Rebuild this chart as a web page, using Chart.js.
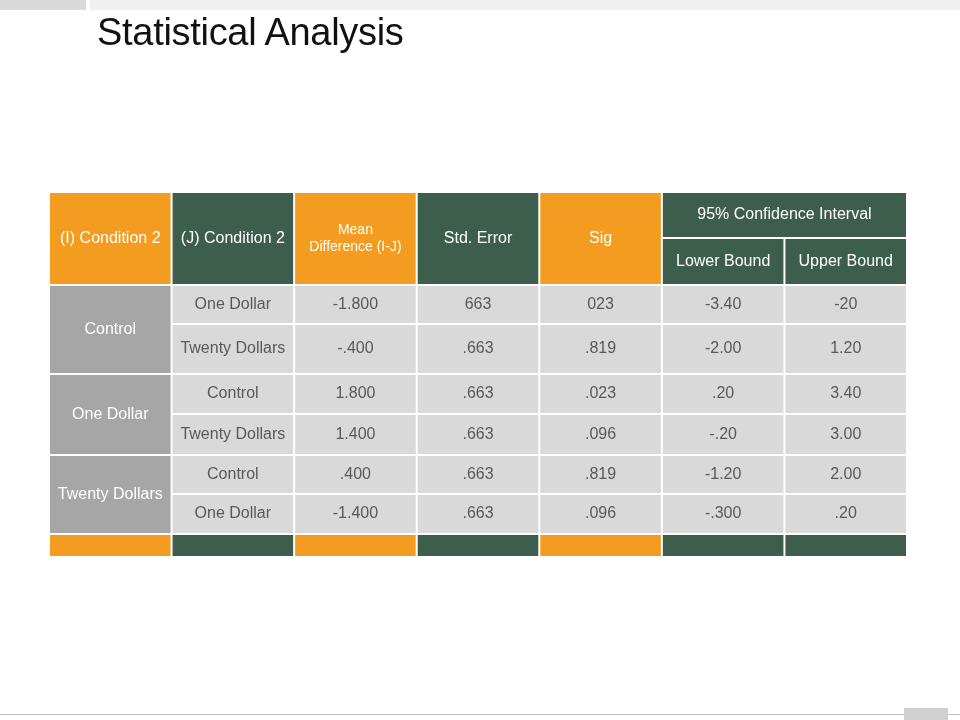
<!DOCTYPE html>
<html><head><meta charset="utf-8">
<script src="https://cdn.jsdelivr.net/npm/chart.js@4"></script>
<style>
body{margin:0;background:#fff;width:960px;height:720px;overflow:hidden;position:relative;font-family:"Liberation Sans",Arial,sans-serif}
#c{position:absolute;left:0;top:0}
h1{position:absolute;left:97px;top:11px;margin:0;font-weight:normal;font-size:38px;color:#111;letter-spacing:-0.3px}
.d1{position:absolute;left:0;top:0;width:86px;height:10px;background:#d9d9d9}
.d2{position:absolute;left:90px;top:0;width:870px;height:10px;background:#f0f0f0}
.d3{position:absolute;left:0;top:714px;width:960px;height:1px;background:#bfbfbf}
.d4{position:absolute;left:904px;top:708px;width:44px;height:12px;background:#d0d0d0}
</style></head><body>
<div class="d1"></div><div class="d2"></div><div class="d3"></div><div class="d4"></div>
<canvas id="c" width="960" height="720"></canvas>
<h1>Statistical Analysis</h1>
<script>
const headers = ["(I) Condition 2","(J) Condition 2","Mean\nDifference (I-J)","Std. Error","Sig"];
const ciTitle = "95% Confidence Interval";
const ciHeaders = ["Lower Bound","Upper Bound"];
const groups = ["Control","One Dollar","Twenty Dollars"];
const jConditions = ["One Dollar","Twenty Dollars","Control","Twenty Dollars","Control","One Dollar"];
const meanDiff = ["-1.800","-.400","1.800","1.400",".400","-1.400"];
const stdError = ["663",".663",".663",".663",".663",".663"];
const sig = ["023",".819",".023",".096",".819",".096"];
const lowerBound = ["-3.40","-2.00",".20","-.20","-1.20","-.300"];
const upperBound = ["-20","1.20","3.40","3.00","2.00",".20"];

// layout (scale units)
const headerMid = 46, headerEnd = 93;
const rowEdges = [93,132,182,222,263,302,342];
const footerEnd = 365;
const ORANGE="#F39C1F", GREEN="#3E5E4D", GROUP="#A6A6A6", CELL="#D9D9D9";
const headColors=[ORANGE,GREEN,ORANGE,GREEN,ORANGE,GREEN,GREEN];

const tablePlugin = {
  id:'table',
  afterDraw(chart){
    const ctx=chart.ctx, x=chart.scales.x, y=chart.scales.y;
    function cell(c0,c1,r0,r1,fill,text,color,font){
      const X0=x.getPixelForValue(c0)+1, X1=x.getPixelForValue(c1)-1;
      const Y0=y.getPixelForValue(r0)+1, Y1=y.getPixelForValue(r1)-1;
      ctx.fillStyle=fill; ctx.fillRect(X0,Y0,X1-X0,Y1-Y0);
      if(text){
        ctx.fillStyle=color; ctx.font=font||'16px "Liberation Sans", Arial, sans-serif';
        ctx.textAlign='center'; ctx.textBaseline='middle';
        const lines=text.split('\n'), lh=17, cx=(X0+X1)/2, cy=(Y0+Y1)/2;
        lines.forEach((l,i)=>ctx.fillText(l,cx,cy+(i-(lines.length-1)/2)*lh));
      }
    }
    ctx.save();
    headers.forEach((h,i)=>cell(i,i+1,0,headerEnd,headColors[i],h,'#fff',
      i===2?'14px "Liberation Sans", Arial, sans-serif':'16px "Liberation Sans", Arial, sans-serif'));
    cell(5,7,0,headerMid,GREEN,ciTitle,'#fff');
    ciHeaders.forEach((h,i)=>cell(5+i,6+i,headerMid,headerEnd,GREEN,h,'#fff'));
    groups.forEach((g,i)=>cell(0,1,rowEdges[2*i],rowEdges[2*i+2],GROUP,g,'#fff'));
    const cols=[jConditions,meanDiff,stdError,sig,lowerBound,upperBound];
    for(let r=0;r<jConditions.length;r++){
      cols.forEach((col,c)=>cell(c+1,c+2,rowEdges[r],rowEdges[r+1],CELL,col[r],'#595959'));
    }
    headColors.forEach((col,i)=>cell(i,i+1,rowEdges[rowEdges.length-1],footerEnd,col,'',''));
    ctx.restore();
  }
};

new Chart(document.getElementById('c'),{
  type:'scatter',
  data:{datasets:[{data:[]}]},
  options:{
    responsive:false,animation:false,devicePixelRatio:1,
    layout:{padding:{left:49,right:53,top:192,bottom:163}},
    plugins:{legend:{display:false},tooltip:{enabled:false},title:{display:false}},
    scales:{
      x:{type:'linear',min:0,max:7,display:false},
      y:{type:'linear',min:0,max:footerEnd,reverse:true,display:false}
    }
  },
  plugins:[tablePlugin]
});
</script>
</body></html>
